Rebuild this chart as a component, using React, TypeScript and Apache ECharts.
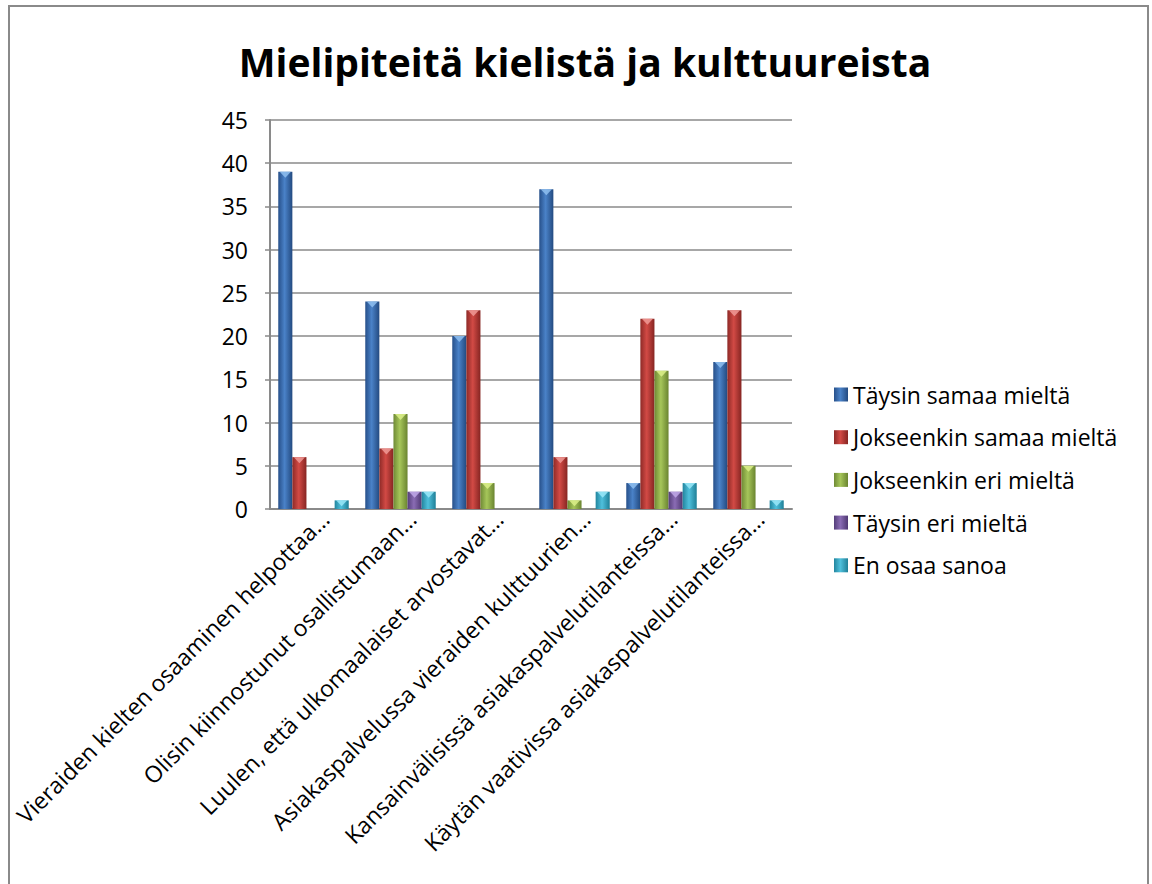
import React, { useEffect, useRef } from "react";
import * as echarts from "echarts";

const categories = [
  "Vieraiden kielten osaaminen helpottaa…",
  "Olisin kiinnostunut osallistumaan…",
  "Luulen, että ulkomaalaiset arvostavat…",
  "Asiakaspalvelussa vieraiden kulttuurien…",
  "Kansainvälisissä asiakaspalvelutilanteissa…",
  "Käytän vaativissa asiakaspalvelutilanteissa…",
];
const seriesNames = [
  "Täysin samaa mieltä",
  "Jokseenkin samaa mieltä",
  "Jokseenkin eri mieltä",
  "Täysin eri mieltä",
  "En osaa sanoa",
];
const taysinSamaa = [39, 24, 20, 37, 3, 17];
const jokseenkinSamaa = [6, 7, 23, 6, 22, 23];
const jokseenkinEri = [0, 11, 3, 1, 16, 5];
const taysinEri = [0, 2, 0, 0, 2, 0];
const enOsaa = [1, 2, 0, 2, 3, 1];
const yTicks = [0, 5, 10, 15, 20, 25, 30, 35, 40, 45];

const palette = [
  ["#27508a", "#4a82c8", "#234a80", "#8fc0f0"],
  ["#8e2a27", "#d24a45", "#862522", "#f09a96"],
  ["#6f8a35", "#a6c65a", "#6a8430", "#dcf08a"],
  ["#553e7a", "#8a6cb4", "#4f3872", "#c0a8e8"],
  ["#22859e", "#4fc0dc", "#1f7f97", "#9ae8f8"],
];

const fontFamily = "'Open Sans', 'Liberation Sans', sans-serif";

export default function App() {
  const ref = useRef<HTMLDivElement>(null);
  useEffect(() => {
    if (!ref.current) return;
    const chart = echarts.init(ref.current, undefined, { renderer: "svg" });
    const allData = [taysinSamaa, jokseenkinSamaa, jokseenkinEri, taysinEri, enOsaa];
    const plotWidth = 1152 - 270 - 360;
    const catWidth = plotWidth / categories.length;
    const barCatGap = 0.19;
    const barW = (catWidth * (1 - barCatGap)) / allData.length;
    const bars: any[] = allData.map((d, i) => ({
      name: seriesNames[i],
      type: "bar",
      data: d,
      barGap: "0%",
      barCategoryGap: barCatGap * 100 + "%",
      itemStyle: {
        color: new echarts.graphic.LinearGradient(0, 0, 1, 0, [
          { offset: 0, color: palette[i][0] },
          { offset: 0.45, color: palette[i][1] },
          { offset: 1, color: palette[i][2] },
        ]),
      },
    }));
    const caps: any[] = allData.map((d, i) => ({
      name: seriesNames[i] + " cap",
      type: "scatter",
      silent: true,
      z: 5,
      symbol: "triangle",
      symbolRotate: 180,
      symbolSize: [barW - 3, 6],
      symbolOffset: [(i - (allData.length - 1) / 2) * barW, 3],
      itemStyle: { color: palette[i][3], opacity: 0.85 },
      data: d.map((v, j) => (v > 0 ? [j, v] : null)).filter((p) => p !== null),
    }));
    chart.setOption({
      animation: false,
      backgroundColor: "#ffffff",
      title: {
        text: "Mielipiteitä kielistä ja kulttuureista",
        left: 580,
        textAlign: "center",
        top: 37,
        textStyle: { fontFamily, fontSize: 39, fontWeight: "bold", color: "#000" },
      },
      legend: {
        orient: "vertical",
        left: 829,
        top: 378,
        itemWidth: 14,
        itemHeight: 14,
        itemGap: 19.7,
        itemStyle: { borderWidth: 0 },
        icon: "rect",
        textStyle: { fontFamily, fontSize: 23, color: "#000", lineHeight: 23 },
        data: seriesNames,
      },
      grid: { left: 270, right: 360, top: 120, bottom: 375, containLabel: false },
      xAxis: {
        type: "category",
        data: categories,
        axisLine: { lineStyle: { color: "#8a8a8a", width: 2 } },
        axisTick: { show: false },
        axisLabel: {
          rotate: 45,
          interval: 0,
          margin: 17,
          padding: [0, -16, 0, 0],
          fontFamily,
          fontSize: 23,
          color: "#000",
        },
      },
      yAxis: {
        type: "value",
        min: yTicks[0],
        max: yTicks[yTicks.length - 1],
        interval: 5,
        axisLine: { show: true, lineStyle: { color: "#8a8a8a", width: 2 } },
        axisTick: { show: true, length: 5, lineStyle: { color: "#8a8a8a", width: 1.5 } },
        splitLine: { lineStyle: { color: "#8a8a8a", width: 1.5 } },
        axisLabel: { fontFamily, fontSize: 23, color: "#000", margin: 22 },
      },
      graphic: [
        {
          type: "rect",
          shape: { x: 9, y: 6, width: 1139, height: 900 },
          style: { fill: "none", stroke: "#8a8a8a", lineWidth: 2 },
          silent: true,
        },
      ],
      series: [...bars, ...caps],
    });
    return () => chart.dispose();
  }, []);
  return (
    <div
      ref={ref}
      style={{ position: "fixed", left: 0, top: 0, width: 1152, height: 884 }}
    />
  );
}
